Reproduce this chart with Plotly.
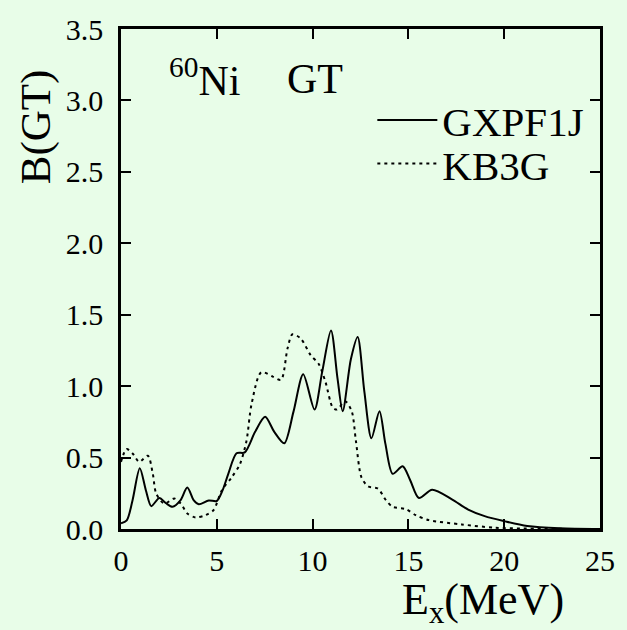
import plotly.graph_objects as go

# GT strength distribution of 60Ni (smoothed), two effective interactions
gx_energy = [0.0, 0.3, 0.6, 0.98, 1.3, 1.58, 2.0, 2.35, 2.69, 3.1, 3.46, 3.8, 4.06, 4.58,
             5.0, 5.3, 5.6, 6.03, 6.46, 7.0, 7.52, 8.0, 8.52, 9.0, 9.51, 10.1, 10.5,
             10.96, 11.3, 11.57, 12.0, 12.35, 12.7, 13.07, 13.49, 13.8, 14.18, 14.7,
             15.1, 15.55, 16.24, 17.27, 18.12, 18.98, 20.0, 21.2, 22.9, 25.0]
gx_bgt = [0.04, 0.06, 0.2, 0.425, 0.27, 0.16, 0.217, 0.18, 0.155, 0.2, 0.29, 0.2, 0.173, 0.2,
          0.196, 0.27, 0.386, 0.53, 0.536, 0.68, 0.785, 0.68, 0.6, 0.82, 1.083, 0.836, 1.1,
          1.39, 1.055, 0.825, 1.19, 1.344, 0.963, 0.635, 0.825, 0.596, 0.386, 0.439,
          0.34, 0.217, 0.275, 0.208, 0.136, 0.09, 0.055, 0.021, 0.005, 0.0]

kb_energy = [0.0, 0.29, 0.63, 0.95, 1.4, 1.66, 1.84, 2.26, 2.78, 3.12, 3.46, 3.89, 4.41, 4.83,
             5.26, 5.78, 6.21, 6.55, 6.81, 7.32, 7.92, 8.35, 8.69, 8.95, 9.38, 9.9, 10.32,
             10.67, 11.05, 11.27, 11.7, 12.04, 12.26, 12.55, 12.9, 13.41, 13.84, 14.18,
             14.87, 15.38, 16.07, 17.78, 19.5, 21.0, 25.0]
kb_bgt = [0.47, 0.56, 0.525, 0.47, 0.513, 0.386, 0.247, 0.178, 0.213, 0.178, 0.109, 0.081,
          0.097, 0.132, 0.27, 0.362, 0.455, 0.617, 0.871, 1.097, 1.067, 1.044, 1.263, 1.363,
          1.333, 1.217, 1.155, 1.03, 0.85, 0.836, 0.894, 0.825, 0.617, 0.362, 0.298, 0.282,
          0.2, 0.155, 0.139, 0.097, 0.062, 0.032, 0.009, 0.003, 0.0]

x_ticks = [0, 5, 10, 15, 20, 25]
y_ticks = [0.0, 0.5, 1.0, 1.5, 2.0, 2.5, 3.0, 3.5]

FONT = "serif"
BG = "#e8fde8"

fig = go.Figure()
fig.add_trace(go.Scatter(x=gx_energy, y=gx_bgt, mode="lines", name="GXPF1J",
                         legend="legend",
                         line=dict(color="black", width=2, shape="spline", smoothing=0.8)))
fig.add_trace(go.Scatter(x=kb_energy, y=kb_bgt, mode="lines", name="KB3G",
                         legend="legend2",
                         line=dict(color="black", width=2, dash="3px,4px",
                                   shape="spline", smoothing=0.8)))

axis_common = dict(showgrid=False, zeroline=False, showline=True, linecolor="black",
                   linewidth=2.5, mirror="ticks", ticks="inside", ticklen=10,
                   tickwidth=2, tickcolor="black",
                   tickfont=dict(family=FONT, size=30, color="black"))

fig.update_xaxes(range=[0, 25], tickvals=x_ticks, ticklabelstandoff=3, **axis_common)
fig.update_yaxes(range=[0, 3.5], tickvals=y_ticks, tickformat=".1f",
                 ticklabelstandoff=9, **axis_common)

legend_common = dict(xanchor="left", yanchor="middle", bgcolor="rgba(0,0,0,0)",
                     font=dict(family=FONT, size=41, color="black"), itemwidth=60)

fig.update_layout(
    width=627, height=630,
    margin=dict(l=121, r=20, t=25, b=101),
    paper_bgcolor=BG, plot_bgcolor=BG,
    font=dict(family=FONT, color="black"),
    showlegend=True,
    legend=dict(x=0.5247, y=0.8175, **legend_common),
    legend2=dict(x=0.5247, y=0.7302, **legend_common),
    annotations=[
        dict(text="B(GT)", textangle=-90, xref="paper", yref="paper",
             x=-0.177, y=0.804, xanchor="center", yanchor="middle",
             showarrow=False, font=dict(size=43)),
        dict(text="E<sub>x</sub>(MeV)", xref="paper", yref="paper",
             x=0.755, y=-0.205, xanchor="center", yanchor="bottom",
             showarrow=False, font=dict(size=44)),
        dict(text="<sup>60</sup>Ni", xref="paper", yref="paper",
             x=0.0967, y=0.960, xanchor="left", yanchor="top",
             showarrow=False, font=dict(size=42)),
        dict(text="GT", xref="paper", yref="paper",
             x=0.4043, y=0.9494, xanchor="center", yanchor="top",
             showarrow=False, font=dict(size=42)),
    ],
)

fig.write_html("out.html")
